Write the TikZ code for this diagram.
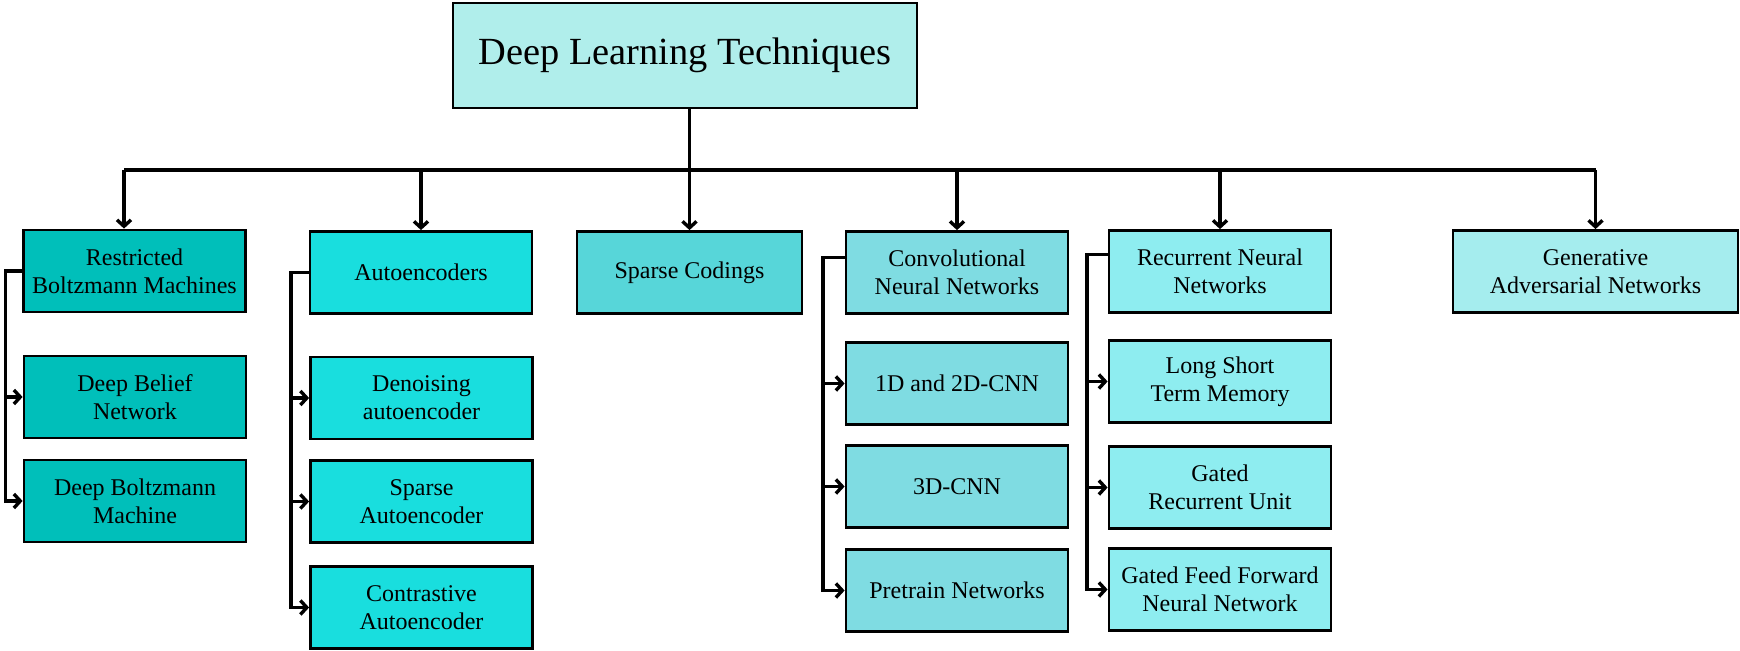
\documentclass[tikz,border=0pt]{standalone}
\usepackage{fontspec}
\setmainfont{Liberation Serif}
\usetikzlibrary{arrows.meta}
\definecolor{croot}{HTML}{B0EEEB}
\definecolor{crbm}{HTML}{00BFBA}
\definecolor{cae}{HTML}{19DEDE}
\definecolor{csc}{HTML}{57D6D9}
\definecolor{ccnn}{HTML}{7FDCE2}
\definecolor{crnn}{HTML}{8EEDF0}
\definecolor{cgan}{HTML}{A5EDEE}
\begin{document}
\begin{tikzpicture}[x=0.5pt,y=-0.5pt,
  box/.style={draw=black, line width=1.4pt, align=center, inner sep=0pt,
    font=\fontsize{12}{14}\selectfont, minimum width=111pt, minimum height=41pt},
  conn/.style={line width=1.7pt},
  arr/.style={conn, -{Straight Barb[length=3.2pt,width=7pt,line width=1.7pt]}},
]
\useasboundingbox (0,0) rectangle (1740,651);

\node[box, fill=croot, minimum width=232pt, minimum height=52.5pt, font=\fontsize{19.2}{22}\selectfont] (root) at (685,55.5) {Deep Learning Techniques};

\node[box, fill=crbm] (rbm) at (134.5,271) {Restricted\\Boltzmann Machines};
\node[box, fill=crbm] (dbn) at (135,397) {Deep Belief\\Network};
\node[box, fill=crbm] (dbm) at (135,501) {Deep Boltzmann\\Machine};

\node[box, fill=cae] (ae) at (421,272.5) {Autoencoders};
\node[box, fill=cae] (dae) at (421.5,398) {Denoising\\autoencoder};
\node[box, fill=cae] (sae) at (421.5,501.5) {Sparse\\Autoencoder};
\node[box, fill=cae] (cae) at (421.5,607.5) {Contrastive\\Autoencoder};

\node[box, fill=csc, minimum width=112.5pt] (sc) at (689.5,272.5) {Sparse Codings};

\node[box, fill=ccnn] (cnn) at (957,272.5) {Convolutional\\Neural Networks};
\node[box, fill=ccnn] (c12) at (957,383.5) {1D and 2D-CNN};
\node[box, fill=ccnn] (c3) at (957,486.5) {3D-CNN};
\node[box, fill=ccnn] (ptn) at (957,590.5) {Pretrain Networks};

\node[box, fill=crnn] (rnn) at (1220,271.5) {Recurrent Neural\\Networks};
\node[box, fill=crnn] (lstm) at (1220,381.5) {Long Short\\Term Memory};
\node[box, fill=crnn] (gru) at (1220,487.5) {Gated\\Recurrent Unit};
\node[box, fill=crnn] (gff) at (1220,589.5) {Gated Feed Forward\\Neural Network};

\node[box, fill=cgan, minimum width=142.5pt] (gan) at (1595.5,271.5) {Generative\\Adversarial Networks};

% top bus
\coordinate (busL) at (124,170);
\coordinate (busR) at (1595.5,170);
\draw[conn] (busL) -- (busR);
\draw[arr] (root.south -| sc.north) -- (sc.north);
\draw[arr] (busL) -- (busL |- rbm.north);
\draw[arr] (ae.north |- busL) -- (ae.north);
\draw[arr] (cnn.north |- busL) -- (cnn.north);
\draw[arr] (rnn.north |- busL) -- (rnn.north);
\draw[arr] (gan.north |- busL) -- (gan.north);

% RBM children
\coordinate (t1) at (5.5,270);
\draw[arr] (rbm.west) -- (rbm.west -| t1) |- (dbn.west);
\draw[arr] (rbm.west -| t1) |- (dbm.west);

% AE children
\coordinate (t2) at (291,275);
\draw[arr] (ae.west) -- (ae.west -| t2) |- (dae.west);
\draw[arr] (ae.west -| t2) |- (sae.west);
\draw[arr] (ae.west -| t2) |- (cae.west);

% CNN children
\coordinate (t3) at (823,257);
\draw[arr] ([yshift=7.5pt]cnn.west) -- ([yshift=7.5pt]cnn.west -| t3) |- (c12.west);
\draw[arr] ([yshift=7.5pt]cnn.west -| t3) |- (c3.west);
\draw[arr] ([yshift=7.5pt]cnn.west -| t3) |- (ptn.west);

% RNN children
\coordinate (t4) at (1087,254);
\draw[arr] ([yshift=8.5pt]rnn.west) -- ([yshift=8.5pt]rnn.west -| t4) |- (lstm.west);
\draw[arr] ([yshift=8.5pt]rnn.west -| t4) |- (gru.west);
\draw[arr] ([yshift=8.5pt]rnn.west -| t4) |- (gff.west);
\end{tikzpicture}
\end{document}
